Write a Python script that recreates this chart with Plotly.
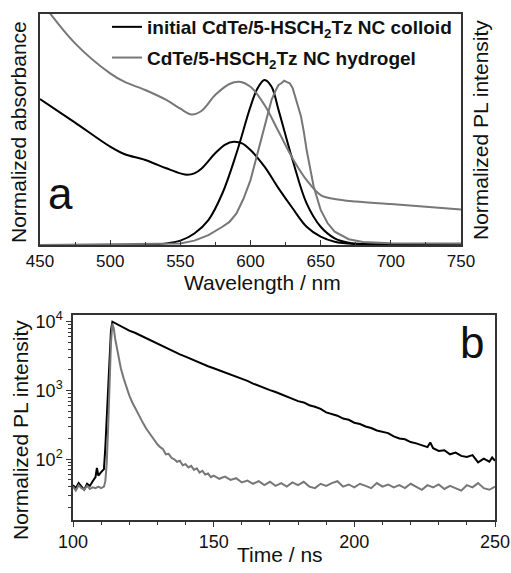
import plotly.graph_objects as go

# panel a: steady-state spectra (normalized, arbitrary units)
abs_col_wl = [450, 475, 500, 510, 525, 540, 550, 555, 560, 565, 575, 582, 588, 594, 600, 610, 620, 630,
              640, 650, 660, 675, 700, 750]
abs_col = [0.632, 0.53, 0.426, 0.394, 0.368, 0.332, 0.31, 0.304, 0.31, 0.33, 0.398, 0.435, 0.447, 0.440,
           0.411, 0.339, 0.245, 0.159, 0.079, 0.036, 0.014, 0.004, 0.002, 0.0]

pl_col_wl = [450, 520, 540, 550, 560, 570, 580, 590, 600, 605, 610, 615, 620, 630, 640, 650, 660, 670, 680, 750]
pl_col = [0.0, 0.001, 0.007, 0.019, 0.05, 0.108, 0.224, 0.397, 0.599, 0.678, 0.714, 0.685, 0.584, 0.368,
          0.18, 0.079, 0.029, 0.01, 0.004, 0.003]

abs_gel_wl = [450, 475, 500, 510, 525, 540, 550, 558, 565, 575, 585, 592, 600, 610, 620, 630, 640, 650,
              660, 675, 700, 725, 750]
abs_gel = [1.06, 0.873, 0.743, 0.707, 0.671, 0.628, 0.59, 0.565, 0.58, 0.65, 0.697, 0.707, 0.685, 0.606,
           0.491, 0.375, 0.281, 0.216, 0.199, 0.188, 0.177, 0.166, 0.154]

pl_gel_wl = [450, 500, 550, 560, 570, 580, 585, 590, 595, 600, 605, 610, 612, 615, 618, 620, 622, 624, 626,
             628, 630, 632, 634, 636, 638, 640, 645, 650, 655, 660, 670, 680, 700, 750]
pl_gel = [0.0, 0.003, 0.007, 0.019, 0.043, 0.079, 0.1, 0.137, 0.2, 0.281, 0.397, 0.512, 0.55, 0.628, 0.67,
          0.693, 0.70, 0.711, 0.705, 0.70, 0.68, 0.642, 0.60, 0.556, 0.49, 0.411, 0.253, 0.152, 0.094, 0.058,
          0.025, 0.013, 0.008, 0.006]

# panel b: PL decay
t_col = [100, 101, 102, 103, 104, 105, 106, 107, 108, 108.5, 109, 110, 110.5, 111, 111.5, 112, 112.5, 113,
         113.5, 114, 115, 116, 118, 120, 122, 124, 126, 128, 130, 132, 134, 136, 138, 140, 142, 144, 146, 148,
         150, 152, 154, 156, 158, 160, 162, 164, 166, 168, 170, 172, 174, 176, 178, 180, 182, 184, 186, 188,
         190, 192, 194, 196, 198, 200, 202, 204, 206, 208, 210, 212, 214, 216, 218, 220, 222, 224, 226, 227,
         228, 230, 232, 234, 236, 238, 240, 242, 244, 246, 248, 249, 250]
i_col = [42, 38, 45, 40, 36, 44, 41, 48, 55, 75, 58, 65, 70, 72, 150, 400, 1200, 3800,
         7500, 10000, 9500, 9000, 8300, 7400, 6900, 6300, 5800, 5200, 4750, 4400, 3950, 3700, 3350, 3100, 2850,
         2600, 2420, 2250, 2100, 1960, 1800, 1680, 1560, 1450, 1380, 1260, 1160, 1090, 1010, 950, 880, 820, 760,
         700, 670, 610, 580, 540, 480, 450, 430, 390, 375, 340, 325, 300, 285, 262, 250, 240, 215, 200, 195,
         178, 170, 160, 150, 175, 145, 132, 135, 118, 125, 112, 108, 115, 90, 102, 92, 106, 95]

t_gel = [100, 101, 102, 103, 104, 105, 106, 107, 108, 109, 110, 111, 111.5, 112, 112.5, 113, 113.5, 114,
         114.5, 115, 116, 117, 118, 119, 120, 121, 122, 123, 124, 125, 126, 127, 128, 129, 130, 131, 132, 133,
         134, 135, 136, 137, 138, 139, 140, 141, 142, 143, 144, 145, 146, 147, 148, 149, 150, 152, 154, 156,
         158, 160, 162, 164, 166, 168, 170, 172, 174, 176, 178, 180, 182, 184, 186, 188, 190, 192, 194, 196,
         198, 200, 202, 204, 206, 208, 210, 212, 214, 216, 218, 220, 222, 224, 226, 228, 230, 232, 234, 236,
         238, 240, 242, 244, 246, 248, 250]
i_gel = [40, 35, 42, 38, 36, 41, 37, 39, 38, 40, 38, 40, 48, 90, 300, 1500, 5000, 9400,
         8000, 5600, 3200, 2100, 1500, 1100, 850, 680, 560, 470, 390, 330, 280, 245, 210, 190, 165, 150, 140, 118,
         120, 105, 100, 92, 95, 82, 85, 76, 80, 70, 74, 64, 68, 60, 62, 55, 58, 52, 56, 50,
         53, 46, 49, 44, 48, 42, 47, 41, 45, 40, 46, 42, 47, 40, 38, 44, 41, 45, 48, 40,
         43, 39, 44, 41, 38, 45, 40, 43, 39, 42, 38, 44, 40, 36, 42, 39, 43, 37, 41, 38,
         35, 42, 39, 45, 38, 36, 40]

wl_ticks = [450, 500, 550, 600, 650, 700, 750]
t_ticks = [100, 150, 200, 250]
log_ticks = [100, 1000, 10000]
log_labels = ["10<sup>2</sup>", "10<sup>3</sup>", "10<sup>4</sup>"]
log_minor = [20, 30, 40, 50, 60, 70, 80, 90, 200, 300, 400, 500, 600, 700, 800, 900,
             2000, 3000, 4000, 5000, 6000, 7000, 8000, 9000]

BLACK = "#000000"
GRAY = "#777777"
FONT = "Liberation Sans, Arial, sans-serif"
W, H = 511, 573


def fx(px):
    return px / W


def fy(py):
    return 1 - py / H


fig = go.Figure()

fig.add_trace(go.Scatter(x=abs_col_wl, y=abs_col, mode="lines", line=dict(color=BLACK, width=2, shape="spline"),
                         name="<b>initial CdTe/5-HSCH<sub>2</sub>Tz NC colloid</b>", legendgroup="a"))
fig.add_trace(go.Scatter(x=pl_col_wl, y=pl_col, mode="lines", line=dict(color=BLACK, width=2, shape="spline"),
                         showlegend=False, legendgroup="a"))
fig.add_trace(go.Scatter(x=abs_gel_wl, y=abs_gel, mode="lines", line=dict(color=GRAY, width=2, shape="spline"),
                         name="<b>CdTe/5-HSCH<sub>2</sub>Tz NC hydrogel</b>", legendgroup="b"))
fig.add_trace(go.Scatter(x=pl_gel_wl, y=pl_gel, mode="lines", line=dict(color=GRAY, width=2),
                         showlegend=False, legendgroup="b"))

fig.add_trace(go.Scatter(x=t_col, y=i_col, mode="lines", line=dict(color=BLACK, width=2),
                         xaxis="x2", yaxis="y2", showlegend=False))
fig.add_trace(go.Scatter(x=t_gel, y=i_gel, mode="lines", line=dict(color=GRAY, width=2),
                         xaxis="x2", yaxis="y2", showlegend=False))

axis_common = dict(showline=True, linecolor="#333333", linewidth=1.5, mirror=True, showgrid=False,
                   zeroline=False, ticks="inside", tickcolor="#333333", ticklen=5, automargin=False,
                   tickfont=dict(size=17, color="#111111"))
axis_b = {**axis_common, "ticks": "outside", "tickfont": dict(size=18, color="#111111")}

fig.update_layout(
    width=W, height=H,
    margin=dict(l=0, r=0, t=0, b=0, pad=0, autoexpand=False),
    paper_bgcolor="white", plot_bgcolor="white",
    font=dict(family=FONT, color="#111111"),
    xaxis=dict(domain=[fx(40), fx(461)], range=[450, 750], tickvals=wl_ticks,
               minor=dict(ticks="inside", ticklen=3, dtick=25, tick0=450, tickcolor="#333333"),
               anchor="y", **axis_common),
    yaxis=dict(domain=[fy(245), fy(14)], range=[0, 1], showticklabels=False,
               anchor="x", **{**axis_common, "ticks": ""}),
    xaxis2=dict(domain=[fx(73), fx(495)], range=[100, 250], tickvals=t_ticks,
                minor=dict(ticks="outside", ticklen=3, dtick=10, tick0=100, tickcolor="#333333"),
                anchor="y2", **axis_b),
    yaxis2=dict(domain=[fy(520), fy(315)], type="log", range=[1.117, 4.097],
                tickvals=log_ticks, ticktext=log_labels,
                minor=dict(ticks="outside", ticklen=3, tickcolor="#333333", tickvals=log_minor),
                anchor="x2", **axis_b),
    legend=dict(x=fx(107), y=fy(8), xanchor="left", yanchor="top", bgcolor="rgba(0,0,0,0)",
                font=dict(size=19, family=FONT, color="#111111"),
                tracegroupgap=3),
    showlegend=True,
)

ann = [
    dict(text="Wavelength / nm", x=fx(262), y=fy(282), font=dict(size=21)),
    dict(text="Normalized absorbance", x=fx(18), y=fy(132), textangle=-90, font=dict(size=21)),
    dict(text="Normalized PL intensity", x=fx(480), y=fy(130), textangle=-90, font=dict(size=21)),
    dict(text="a", x=fx(60), y=fy(193), font=dict(size=44)),
    dict(text="Time / ns", x=fx(280), y=fy(554), font=dict(size=21)),
    dict(text="Normalized PL intensity", x=fx(20), y=fy(430), textangle=-90, font=dict(size=21)),
    dict(text="b", x=fx(472), y=fy(342), font=dict(size=44)),
]
for a in ann:
    fig.add_annotation(xref="paper", yref="paper", showarrow=False, xanchor="center", yanchor="middle", **a)

# drop the browser's default body margin so the figure fills the window; no modebar
fig.write_html("out.html", config={"displayModeBar": False},
               post_script="document.body.style.margin='0';document.body.style.overflow='hidden';")
